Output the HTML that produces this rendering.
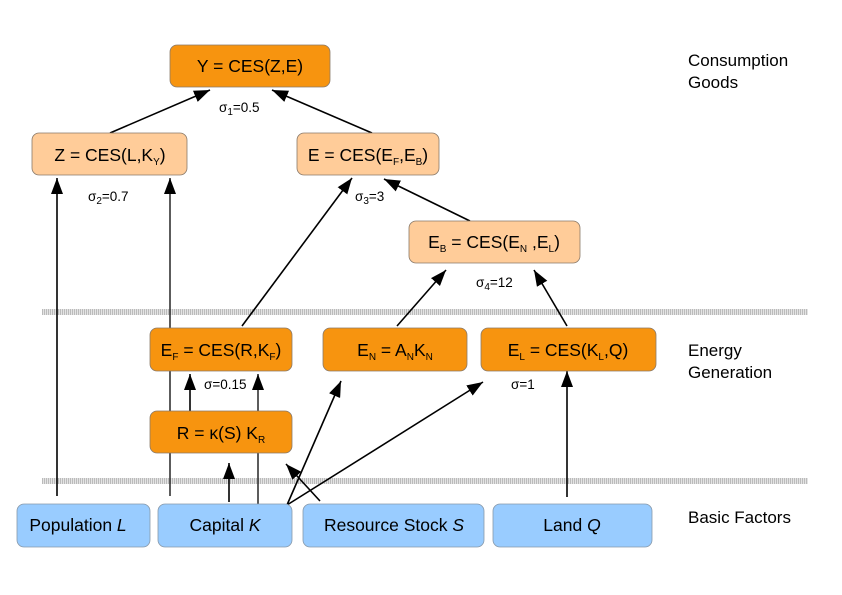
<!DOCTYPE html>
<html><head><meta charset="utf-8"><style>
body{margin:0;background:#fff}
svg{display:block}
text{font-family:"Liberation Sans",sans-serif;fill:#000}
.b{font-size:17.5px}
.s{font-size:13.5px}
.sub{font-size:10px}
.r{font-size:17px}
</style></head><body>
<svg width="842" height="595" viewBox="0 0 842 595" xmlns="http://www.w3.org/2000/svg">
<defs>
<marker id="a" viewBox="0 0 16 12" refX="16" refY="6" markerWidth="16" markerHeight="12" markerUnits="userSpaceOnUse" orient="auto"><path d="M0,0 L16,6 L0,12 z" fill="#000"/></marker>
<pattern id="h" width="2" height="6" patternUnits="userSpaceOnUse"><rect width="1" height="6" fill="#bbb"/><rect x="1" width="1" height="6" fill="#e4e4e4"/></pattern>
</defs>
<rect x="42" y="309" width="766" height="6" fill="url(#h)"/>
<rect x="42" y="478" width="766" height="6" fill="url(#h)"/>
<g stroke="#000" stroke-width="1.6" fill="none">
<line x1="57" y1="496" x2="57" y2="178" marker-end="url(#a)"/>
<line x1="170" y1="496" x2="170" y2="178" marker-end="url(#a)" stroke="#333"/>
<line x1="110" y1="133" x2="210" y2="90" marker-end="url(#a)"/>
<line x1="372" y1="133" x2="272" y2="90" marker-end="url(#a)"/>
<line x1="242" y1="326" x2="352" y2="178" marker-end="url(#a)"/>
<line x1="470" y1="221" x2="384" y2="179" marker-end="url(#a)"/>
<line x1="397" y1="326" x2="446" y2="270" marker-end="url(#a)"/>
<line x1="567" y1="326" x2="534" y2="270" marker-end="url(#a)"/>
<line x1="190" y1="411" x2="190" y2="374" marker-end="url(#a)"/>
<line x1="258" y1="504" x2="258" y2="374" marker-end="url(#a)" stroke="#333"/>
<line x1="229" y1="502" x2="229" y2="463" marker-end="url(#a)"/>
<line x1="287" y1="505" x2="341" y2="381" marker-end="url(#a)"/>
<line x1="287" y1="505" x2="483" y2="382" marker-end="url(#a)"/>
<line x1="320" y1="501" x2="286" y2="464" marker-end="url(#a)"/>
<line x1="567" y1="497" x2="567" y2="371" marker-end="url(#a)"/>
</g>
<g stroke="#8a7a6a" stroke-width="0.8">
<rect x="170" y="45" width="160" height="42" rx="7" fill="#f7940f"/>
<rect x="32" y="133" width="155" height="42" rx="7" fill="#ffcc99"/>
<rect x="297" y="133" width="142" height="42" rx="7" fill="#ffcc99"/>
<rect x="409" y="221" width="171" height="42" rx="7" fill="#ffcc99"/>
<rect x="150" y="328" width="142" height="43" rx="7" fill="#f7940f"/>
<rect x="323" y="328" width="144" height="43" rx="7" fill="#f7940f"/>
<rect x="481" y="328" width="175" height="43" rx="7" fill="#f7940f"/>
<rect x="150" y="411" width="142" height="42" rx="7" fill="#f7940f"/>
</g>
<g stroke="#8899aa" stroke-width="0.8" fill="#99ccff">
<rect x="17" y="504" width="133" height="43" rx="7"/>
<rect x="158" y="504" width="134" height="43" rx="7"/>
<rect x="303" y="504" width="181" height="43" rx="7"/>
<rect x="493" y="504" width="159" height="43" rx="7"/>
</g>
<g class="b" text-anchor="middle">
<text x="250" y="72">Y = CES(Z,E)</text>
<text x="110" y="161">Z = CES(L,K<tspan class="sub" dy="4">Y</tspan><tspan dy="-4">)</tspan></text>
<text x="368" y="161">E = CES(E<tspan class="sub" dy="4">F</tspan><tspan dy="-4">,E</tspan><tspan class="sub" dy="4">B</tspan><tspan dy="-4">)</tspan></text>
<text x="494" y="248">E<tspan class="sub" dy="4">B</tspan><tspan dy="-4"> = CES(E</tspan><tspan class="sub" dy="4">N</tspan><tspan dy="-4"> ,E</tspan><tspan class="sub" dy="4">L</tspan><tspan dy="-4">)</tspan></text>
<text x="221" y="356">E<tspan class="sub" dy="4">F</tspan><tspan dy="-4"> = CES(R,K</tspan><tspan class="sub" dy="4">F</tspan><tspan dy="-4">)</tspan></text>
<text x="395" y="356">E<tspan class="sub" dy="4">N</tspan><tspan dy="-4"> = A</tspan><tspan class="sub" dy="4">N</tspan><tspan dy="-4">K</tspan><tspan class="sub" dy="4">N</tspan></text>
<text x="568" y="356">E<tspan class="sub" dy="4">L</tspan><tspan dy="-4"> = CES(K</tspan><tspan class="sub" dy="4">L</tspan><tspan dy="-4">,Q)</tspan></text>
<text x="221" y="439">R = κ(S) K<tspan class="sub" dy="4">R</tspan></text>
<text x="78" y="531">Population <tspan font-style="italic">L</tspan></text>
<text x="225" y="531">Capital <tspan font-style="italic">K</tspan></text>
<text x="394" y="531">Resource Stock <tspan font-style="italic">S</tspan></text>
<text x="572" y="531">Land <tspan font-style="italic">Q</tspan></text>
</g>
<g class="s">
<text x="219" y="112">σ<tspan class="sub" dy="3">1</tspan><tspan dy="-3">=0.5</tspan></text>
<text x="88" y="201">σ<tspan class="sub" dy="3">2</tspan><tspan dy="-3">=0.7</tspan></text>
<text x="355" y="201">σ<tspan class="sub" dy="3">3</tspan><tspan dy="-3">=3</tspan></text>
<text x="476" y="287">σ<tspan class="sub" dy="3">4</tspan><tspan dy="-3">=12</tspan></text>
<text x="204" y="389">σ=0.15</text>
<text x="511" y="389">σ=1</text>
</g>
<g class="r">
<text x="688" y="66">Consumption</text>
<text x="688" y="88">Goods</text>
<text x="688" y="356">Energy</text>
<text x="688" y="378">Generation</text>
<text x="688" y="523">Basic Factors</text>
</g>
</svg>
</body></html>
